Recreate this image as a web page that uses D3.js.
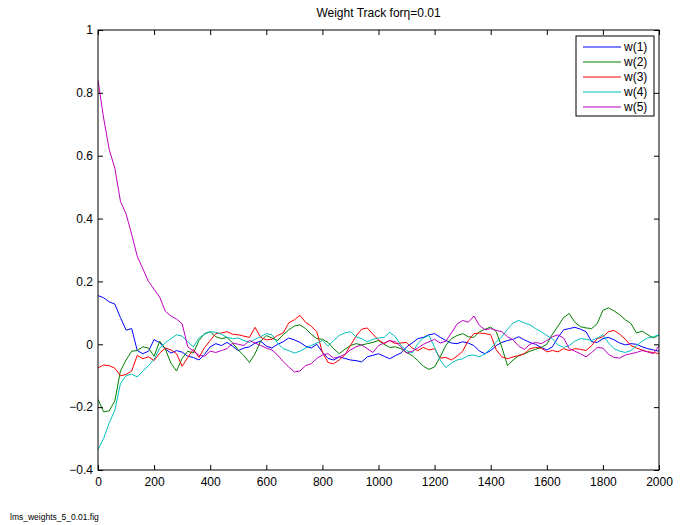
<!DOCTYPE html>
<html>
<head>
<meta charset="utf-8">
<script src="https://cdn.jsdelivr.net/npm/d3@7"></script>
<style>
  body { margin: 0; background: #fff; }
  svg { display: block; }
  text { font-family: "Liberation Sans", Arial, Helvetica, sans-serif; }
</style>
</head>
<body>
<div id="chart"></div>
<script>
// sampled every 20 iterations, 0..2000
const step = 20;
const xTicks = [0, 200, 400, 600, 800, 1000, 1200, 1400, 1600, 1800, 2000];
const yTicks = [-0.4, -0.2, 0, 0.2, 0.4, 0.6, 0.8, 1];
const names = ["w(1)", "w(2)", "w(3)", "w(4)", "w(5)"];
const colors = ["#0000ff", "#008000", "#ff0000", "#00bfbf", "#bf00bf"];

const w1 = [0.155,0.148,0.135,0.128,0.085,0.045,0.05,-0.02,-0.03,-0.022,
  0.015,0.005,-0.015,-0.028,-0.02,-0.025,-0.038,-0.042,-0.05,-0.032,
  -0.008,0.002,-0.004,0.006,-0.006,-0.02,-0.012,-0.008,0.004,0.01,
  -0.006,-0.012,0.0,0.008,0.02,0.014,0.006,-0.006,-0.012,0.0,
  -0.025,-0.045,-0.05,-0.04,-0.045,-0.05,-0.052,-0.056,-0.04,-0.035,
  -0.03,-0.038,-0.046,-0.036,-0.028,-0.008,0.004,0.018,0.022,0.03,
  0.034,0.022,0.012,0.004,0.002,0.008,0.004,-0.004,-0.022,-0.03,
  -0.02,-0.004,0.006,0.012,0.016,0.024,0.014,0.006,0.0,-0.01,
  -0.018,-0.008,0.022,0.046,0.05,0.054,0.048,0.04,0.008,0.006,
  0.018,0.022,0.014,0.004,-0.002,0.002,0.0,-0.008,-0.014,-0.018,-0.022];

const w2 = [-0.175,-0.215,-0.212,-0.18,-0.085,-0.05,-0.022,-0.02,-0.008,-0.012,
  -0.038,0.01,-0.015,-0.06,-0.085,-0.045,-0.022,-0.028,0.012,0.034,
  0.04,0.024,0.018,0.022,0.004,-0.018,-0.036,-0.058,-0.03,0.01,
  0.028,0.02,0.012,0.03,0.046,0.058,0.062,0.05,0.032,0.018,
  0.016,0.006,-0.014,-0.03,-0.016,-0.004,0.002,-0.002,0.002,0.006,
  0.012,0.0,-0.01,-0.008,-0.014,-0.026,-0.036,-0.052,-0.07,-0.08,
  -0.072,-0.04,-0.004,0.018,0.028,0.034,0.024,0.022,0.04,0.048,
  0.055,0.04,-0.01,-0.068,-0.05,-0.036,-0.03,-0.022,-0.016,-0.01,
  0.0,0.032,0.058,0.085,0.098,0.07,0.056,0.052,0.05,0.066,
  0.108,0.116,0.106,0.094,0.078,0.066,0.036,0.042,0.03,0.02,0.03];

const w3 = [-0.075,-0.066,-0.068,-0.076,-0.1,-0.096,-0.085,-0.035,-0.046,-0.04,
  -0.052,-0.028,-0.012,-0.018,-0.03,-0.07,-0.042,-0.016,-0.042,-0.01,
  0.012,0.034,0.036,0.04,0.032,0.03,0.026,0.022,0.054,0.022,
  0.014,0.016,0.028,0.036,0.068,0.078,0.092,0.07,0.058,0.04,
  -0.026,-0.058,-0.062,-0.05,-0.034,-0.004,0.026,0.048,0.052,0.032,
  0.014,0.002,0.012,0.002,0.004,0.006,-0.012,-0.02,-0.01,-0.018,
  -0.014,-0.044,-0.042,-0.05,-0.038,-0.022,0.012,0.034,0.036,0.034,
  0.03,-0.018,-0.04,-0.046,-0.04,-0.036,-0.03,-0.014,-0.01,-0.012,
  -0.024,-0.02,-0.024,-0.014,-0.02,-0.014,-0.016,-0.02,-0.004,0.018,
  0.024,0.04,0.044,0.032,0.016,-0.004,-0.012,-0.018,-0.024,-0.026,-0.03];

const w4 = [-0.335,-0.3,-0.25,-0.21,-0.125,-0.1,-0.095,-0.104,-0.085,-0.068,
  -0.048,-0.012,0.005,0.018,0.03,0.026,0.008,-0.008,0.02,0.032,
  0.04,0.038,0.032,0.022,0.018,0.02,0.012,0.006,0.016,0.024,
  0.034,0.03,0.004,-0.014,-0.02,-0.028,-0.022,-0.012,-0.004,0.004,
  0.012,-0.006,0.012,0.028,0.036,0.04,0.024,0.018,0.008,0.016,
  0.02,0.022,0.038,0.024,-0.004,-0.02,-0.028,0.002,0.02,0.028,
  -0.01,-0.05,-0.074,-0.06,-0.05,-0.046,-0.036,-0.034,-0.04,-0.03,
  -0.014,0.008,0.024,0.048,0.068,0.076,0.068,0.062,0.05,0.04,
  0.028,0.018,-0.002,-0.01,-0.004,0.01,0.018,0.016,0.012,0.02,
  0.03,0.004,-0.014,-0.022,-0.026,-0.02,-0.004,0.01,0.02,0.024,0.03];

const w5 = [0.84,0.72,0.62,0.56,0.455,0.415,0.35,0.28,0.24,0.2,
  0.175,0.15,0.105,0.09,0.08,0.065,-0.008,-0.022,-0.035,-0.038,
  -0.022,-0.026,-0.02,-0.014,0.004,0.0,-0.004,0.012,0.004,-0.004,
  -0.012,-0.018,-0.034,-0.055,-0.072,-0.088,-0.085,-0.068,-0.062,-0.045,
  -0.034,-0.03,-0.044,-0.04,-0.032,-0.018,-0.008,-0.002,-0.014,-0.026,
  -0.004,0.004,0.012,0.008,-0.008,-0.028,-0.022,-0.012,0.0,0.008,
  0.016,0.004,0.01,0.036,0.064,0.076,0.07,0.09,0.06,0.046,
  0.05,0.044,0.04,0.024,0.014,-0.006,-0.016,0.0,0.006,0.002,
  0.012,0.024,0.03,0.02,-0.014,-0.022,-0.03,-0.04,-0.026,-0.01,
  -0.012,-0.032,-0.042,-0.044,-0.034,-0.03,-0.026,-0.02,-0.024,-0.03,-0.004];

const series = [w1, w2, w3, w4, w5];

const width = 689, height = 525;
const plotL = 98, plotR = 659, plotT = 30, plotB = 470;

const svg = d3.select("#chart").append("svg")
  .attr("width", width)
  .attr("height", height);

svg.append("rect").attr("width", width).attr("height", height).attr("fill", "#fff");

const x = d3.scaleLinear().domain([0, 2000]).range([plotL, plotR]);
const y = d3.scaleLinear().domain([-0.4, 1]).range([plotB, plotT]);

svg.append("clipPath").attr("id", "clip")
  .append("rect")
  .attr("x", plotL).attr("y", plotT)
  .attr("width", plotR - plotL).attr("height", plotB - plotT);

const line = d3.line()
  .x((d, i) => x(i * step))
  .y(d => y(d));

svg.append("g").attr("clip-path", "url(#clip)")
  .selectAll("path")
  .data(series)
  .enter().append("path")
  .attr("d", line)
  .attr("fill", "none")
  .attr("stroke", (d, i) => colors[i])
  .attr("stroke-width", 1);

// axes, ticks pointing inward on all four sides
const fmt = d3.format("~g");
const axes = [
  [d3.axisBottom(x).tickValues(xTicks).tickFormat(fmt).tickSizeInner(-5).tickPadding(7), `translate(0,${plotB})`, true],
  [d3.axisTop(x).tickValues(xTicks).tickSizeInner(-5), `translate(0,${plotT})`, false],
  [d3.axisLeft(y).tickValues(yTicks).tickFormat(fmt).tickSizeInner(-5).tickPadding(5), `translate(${plotL},0)`, true],
  [d3.axisRight(y).tickValues(yTicks).tickSizeInner(-5), `translate(${plotR},0)`, false]
];
axes.forEach(([ax, tr, labels]) => {
  const g = svg.append("g").attr("transform", tr).call(ax.tickSizeOuter(0));
  g.select(".domain").remove();
  g.selectAll("line").attr("stroke", "#000");
  g.selectAll("text").attr("font-size", 12).attr("fill", "#000")
    .attr("font-family", "Liberation Sans, Arial, sans-serif");
  if (!labels) g.selectAll("text").remove();
});

svg.append("rect")
  .attr("x", plotL).attr("y", plotT)
  .attr("width", plotR - plotL).attr("height", plotB - plotT)
  .attr("fill", "none").attr("stroke", "#000").attr("stroke-width", 1);

svg.append("text")
  .attr("x", (plotL + plotR) / 2)
  .attr("y", 17)
  .attr("text-anchor", "middle")
  .attr("font-size", 12)
  .text("Weight Track for\u03b7=0.01");

svg.append("text")
  .attr("x", 10)
  .attr("y", 520)
  .attr("font-size", 8.5)
  .text("lms_weights_5_0.01.fig");

// legend
const lg = svg.append("g").attr("transform", "translate(576,36)");
lg.append("rect")
  .attr("width", 78).attr("height", 80)
  .attr("fill", "#fff").attr("stroke", "#000");
const items = lg.selectAll(".key").data(names).enter().append("g")
  .attr("class", "key")
  .attr("transform", (d, i) => `translate(0,${11 + i * 15})`);
items.append("line")
  .attr("x1", 7).attr("x2", 45)
  .attr("stroke", (d, i) => colors[i]);
items.append("text")
  .attr("x", 48).attr("y", 4)
  .attr("font-size", 12)
  .text(d => d);
</script>
</body>
</html>
